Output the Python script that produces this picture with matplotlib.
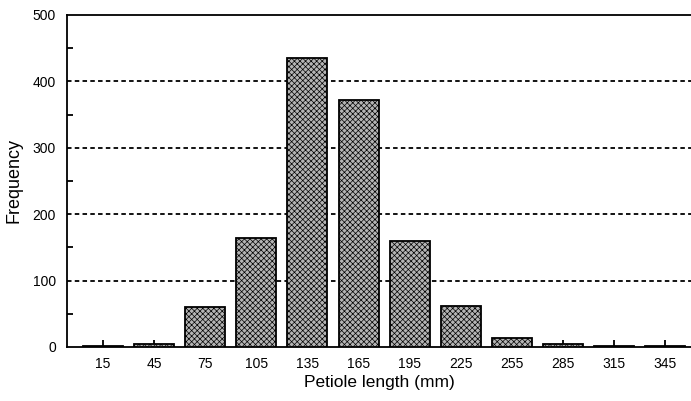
import matplotlib
matplotlib.use("Agg")
import matplotlib.pyplot as plt
import numpy as np

plt.rcParams['font.family'] = ['Liberation Sans', 'DejaVu Sans']
plt.rcParams['hatch.color'] = '#6a6a6a'
plt.rcParams['hatch.linewidth'] = 0.5

bins = [15, 45, 75, 105, 135, 165, 195, 225, 255, 285, 315, 345]
freq = [1, 4, 60, 164, 435, 372, 160, 61, 14, 4, 2, 1]
yticks = [0, 100, 200, 300, 400, 500]

fig = plt.figure(figsize=(6.91, 4.01), dpi=100)
ax = fig.add_axes([67/691, 1-347/401, (691-67)/691, (347-15)/401])

ax.bar(bins, freq, width=23.5, facecolor='#b4b4b4', edgecolor='black',
       linewidth=1.3, hatch='xxxxxx', zorder=3)

for y in yticks[1:-1]:
    ax.axhline(y, color='black', linestyle=(0, (2.5, 1.8)), linewidth=1.3, zorder=1)

ax.set_xlim(-6, 360)
ax.set_ylim(0, 500)
ax.set_xticks(bins)
ax.set_xticklabels([str(b) for b in bins])
ax.set_yticks(yticks)
ax.set_yticks([50, 150, 250, 350, 450], minor=True)
ax.tick_params(axis='x', direction='in', length=5, width=1.3, pad=7, labelsize=10)
ax.tick_params(axis='y', which='major', direction='in', length=0, pad=8, labelsize=10)
ax.tick_params(axis='y', which='minor', direction='in', length=4, width=1.3)

for s in ['left', 'bottom', 'top']:
    ax.spines[s].set_linewidth(1.3)
ax.spines['right'].set_visible(False)

ax.set_xlabel('Petiole length (mm)', fontsize=12.5, labelpad=3)
ax.set_ylabel('Frequency', fontsize=13, labelpad=7)

fig.savefig('out.png', dpi=100)
